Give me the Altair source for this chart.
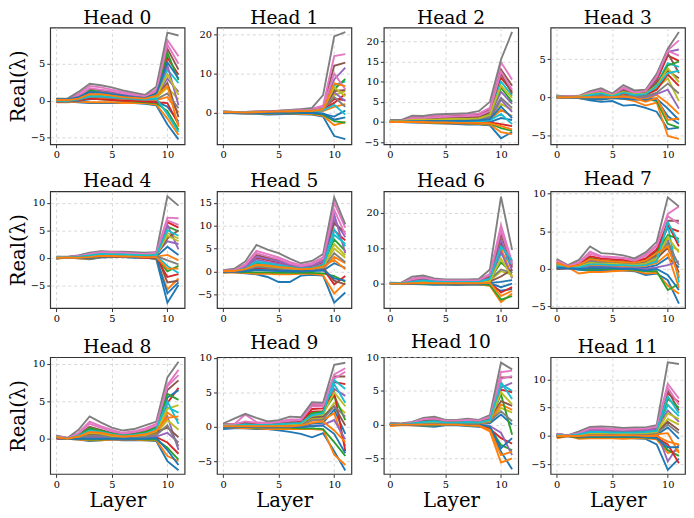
import altair as alt
import pandas as pd

LAYERS = list(range(12))

HEAD_0 = [
    [0.0,-0.1,-0.2,-0.3,-0.3,-0.3,-0.3,-0.3,-0.4,-0.6,-3.2,-5.2],
    [-0.2,-0.2,-0.1,-0.2,-0.2,-0.2,-0.3,-0.3,-0.3,-0.5,-2.4,-4.6],
    [0.1,0.0,0.1,0.3,0.2,0.1,0.0,-0.1,-0.2,-0.3,-1.4,-3.9],
    [0.2,0.1,0.4,1.3,1.0,0.8,0.6,0.4,0.3,0.9,5.8,3.5],
    [0.0,0.1,0.3,0.9,0.8,0.6,0.4,0.3,0.2,0.6,3.0,1.2],
    [0.3,0.2,0.6,1.6,1.4,1.2,0.9,0.7,0.5,1.2,7.0,4.2],
    [0.2,0.2,0.9,2.0,1.8,1.5,1.2,0.9,0.7,1.5,8.2,6.0],
    [0.3,0.3,1.2,2.3,2.1,1.8,1.4,1.1,0.8,1.9,9.2,8.8],
    [0.1,0.1,0.2,0.7,0.6,0.5,0.4,0.3,0.2,0.4,1.8,0.2],
    [0.0,0.0,0.3,1.1,1.0,0.8,0.6,0.4,0.3,0.7,4.2,2.4],
    [-0.1,-0.1,0.0,0.2,0.4,0.3,0.2,0.1,0.0,-0.1,-0.8,-2.8],
    [0.0,0.0,0.1,0.4,0.3,0.2,0.1,0.0,0.0,0.1,0.5,-1.6],
    [0.2,0.1,0.5,1.4,1.2,1.0,0.8,0.6,0.4,1.0,6.5,2.8],
    [-0.1,0.0,0.1,0.3,0.2,0.1,0.0,0.0,-0.1,-0.2,-0.3,-3.2],
    [0.1,0.2,0.4,1.0,1.2,1.0,0.8,0.6,0.4,0.8,4.8,-0.6],
    [0.2,0.1,0.3,0.8,0.7,0.6,0.5,0.4,0.3,0.6,2.4,-2.2],
    [0.1,0.1,0.6,1.7,1.5,1.3,1.0,0.8,0.6,1.3,7.6,5.0],
    [0.0,0.0,0.2,0.5,0.5,0.4,0.3,0.2,0.1,0.2,1.0,-1.0],
    [0.1,0.1,0.3,0.8,0.8,0.7,0.5,0.4,0.3,0.5,3.6,0.8],
    [0.0,0.0,0.2,0.6,0.6,0.5,0.4,0.3,0.2,0.3,-1.8,-4.2],
    [0.2,0.2,0.5,1.2,1.1,0.9,0.7,0.5,0.4,0.9,5.2,3.0],
    [0.1,0.1,0.3,0.9,0.9,0.7,0.5,0.4,0.3,0.7,2.0,-3.5],
]
HEAD_1 = [
    [0.0,-0.2,-0.3,-0.3,-0.5,-0.4,-0.3,-0.4,-0.5,-1.0,-6.0,-6.8],
    [-0.1,-0.1,-0.2,-0.2,-0.3,-0.2,-0.2,-0.3,-0.4,-0.8,-3.2,-2.4],
    [0.1,0.0,-0.1,-0.1,-0.2,-0.1,0.0,-0.1,-0.2,-0.5,-2.2,-2.6],
    [0.2,0.1,0.0,0.1,0.1,0.2,0.3,0.4,0.5,0.9,3.5,3.2],
    [0.1,0.0,0.1,0.2,0.2,0.3,0.4,0.5,0.6,1.2,8.5,11.5],
    [0.3,0.2,0.1,0.2,0.3,0.4,0.5,0.6,0.8,1.4,12.0,12.8],
    [0.2,0.1,0.2,0.3,0.4,0.5,0.6,0.8,1.0,1.8,14.5,15.0],
    [0.3,0.2,0.2,0.3,0.4,0.5,0.7,0.9,1.2,4.5,19.5,20.6],
    [0.0,0.0,0.0,0.1,0.1,0.2,0.3,0.3,0.4,0.7,4.5,5.5],
    [0.1,0.1,0.0,0.0,0.1,0.2,0.2,0.3,0.4,0.8,7.0,8.0],
    [-0.2,-0.1,-0.1,-0.2,-0.2,-0.1,0.0,0.0,-0.1,-0.3,-1.0,0.5],
    [0.0,0.0,0.1,0.1,0.0,0.1,0.2,0.2,0.2,0.4,1.5,2.2],
    [0.2,0.1,0.1,0.2,0.2,0.3,0.4,0.5,0.6,1.0,6.0,8.6],
    [0.1,0.0,0.0,0.1,0.2,0.2,0.3,0.4,0.5,0.9,2.5,4.8],
    [0.0,0.1,0.1,0.1,0.2,0.3,0.3,0.4,0.5,0.8,5.2,3.0],
    [0.2,0.1,0.0,0.1,0.2,0.3,0.4,0.4,0.5,1.0,5.5,5.8],
    [0.1,0.1,0.1,0.2,0.3,0.4,0.5,0.6,0.7,1.3,10.0,6.0],
    [0.0,0.0,0.0,0.1,0.2,0.3,0.3,0.4,0.5,0.9,4.0,1.5],
    [0.1,0.0,0.0,0.1,0.1,0.2,0.3,0.3,0.4,0.8,6.5,4.2],
    [0.0,0.0,0.0,0.0,0.1,0.1,0.2,0.2,0.3,0.6,2.0,-0.5],
    [-0.1,-0.1,-0.1,-0.1,-0.1,0.0,0.1,0.1,0.0,-0.2,-1.8,-1.2],
    [0.1,0.1,0.0,0.1,0.2,0.3,0.3,0.4,0.4,0.8,7.5,6.8],
]
HEAD_2 = [
    [0.0,0.0,-0.1,-0.2,-0.3,-0.4,-0.5,-0.6,-0.6,-0.8,-4.0,-2.5],
    [0.1,0.0,0.0,-0.1,-0.2,-0.3,-0.3,-0.4,-0.5,-0.6,-2.5,-3.0],
    [0.0,0.1,0.1,0.0,-0.1,-0.2,-0.2,-0.3,-0.3,-0.4,-1.5,-2.2],
    [0.2,0.2,0.8,0.9,1.0,1.1,1.2,1.3,1.4,2.5,11.0,7.5],
    [0.1,0.1,0.4,0.5,0.5,0.6,0.7,0.7,0.8,1.6,7.5,4.5],
    [0.3,0.3,1.0,1.1,1.3,1.4,1.5,1.6,1.8,3.0,13.0,9.0],
    [0.4,0.4,1.3,1.4,1.6,1.8,1.9,2.0,2.1,3.5,14.8,10.5],
    [0.5,0.5,1.6,1.5,1.9,2.0,2.1,2.2,2.7,5.0,15.5,22.3],
    [0.1,0.1,0.3,0.3,0.3,0.4,0.4,0.5,0.5,1.0,4.5,3.0],
    [0.2,0.2,0.6,0.7,0.8,0.9,1.0,1.0,1.1,2.2,10.0,6.5],
    [0.0,0.0,0.1,0.1,0.1,0.0,0.0,-0.1,-0.1,0.0,1.0,0.5],
    [0.1,0.1,0.2,0.2,0.2,0.2,0.3,0.3,0.3,0.6,3.0,1.5],
    [0.2,0.2,0.5,0.6,0.7,0.8,0.8,0.9,1.0,2.0,8.5,5.0],
    [0.0,0.0,0.0,0.1,0.0,-0.1,-0.1,-0.1,-0.2,-0.1,-0.5,-1.0],
    [0.1,0.1,0.2,0.3,0.3,0.3,0.4,0.4,0.4,0.8,5.5,2.5],
    [0.3,0.2,0.7,0.8,0.9,1.0,1.1,1.1,1.2,2.4,12.0,7.0],
    [0.3,0.3,0.9,1.0,1.2,1.3,1.4,1.5,1.6,2.8,12.5,8.0],
    [0.1,0.1,0.3,0.4,0.4,0.5,0.5,0.6,0.6,1.2,6.0,3.5],
    [0.2,0.2,0.5,0.6,0.6,0.7,0.8,0.8,0.9,1.8,9.0,6.0],
    [0.0,0.0,0.1,0.1,0.1,0.1,0.1,0.1,0.1,0.4,2.0,-0.5],
    [0.1,0.1,0.2,0.2,0.3,0.3,0.3,0.3,0.4,0.7,3.8,1.0],
    [0.0,0.0,0.0,0.0,-0.1,-0.1,-0.2,-0.2,-0.2,-0.3,-1.0,-1.8],
]
HEAD_3 = [
    [0.0,0.0,-0.1,-0.4,-0.6,-0.5,-1.1,-1.0,-1.4,-1.9,-4.2,-4.0],
    [-0.1,0.0,-0.1,-0.2,-0.3,-0.1,-0.2,-0.5,-1.1,-0.7,-5.1,-5.5],
    [0.0,0.0,-0.1,-0.2,-0.2,0.0,-0.1,-0.2,-0.2,-0.5,-3.5,-4.0],
    [0.1,0.0,0.1,0.5,0.8,0.2,1.0,0.5,0.7,2.2,5.5,4.8],
    [0.0,0.0,0.1,0.3,0.6,0.1,0.8,0.4,0.5,2.5,6.0,6.3],
    [0.2,0.1,0.1,0.6,0.9,0.3,1.1,0.6,0.8,2.6,5.8,3.2],
    [0.1,0.1,0.1,0.7,1.0,0.4,1.3,0.7,0.9,2.8,6.2,7.5],
    [0.2,0.1,0.2,0.8,1.2,0.5,1.6,0.9,1.0,3.1,6.4,8.6],
    [0.0,0.0,0.0,0.2,0.3,0.1,0.4,0.2,0.3,1.2,2.5,-0.5],
    [0.1,0.0,0.0,0.3,0.5,0.2,0.6,0.3,0.4,1.8,4.5,4.0],
    [0.0,0.0,-0.1,-0.1,-0.2,0.0,0.0,-0.1,-0.1,-0.2,-1.5,-3.0],
    [0.0,0.0,0.0,0.1,0.1,0.0,0.2,0.0,-0.2,0.3,-0.8,-2.2],
    [0.1,0.0,0.1,0.4,0.6,0.2,0.7,0.4,0.5,1.6,4.2,4.7],
    [0.1,0.0,0.0,0.2,0.4,0.1,0.5,0.3,0.3,1.0,3.0,1.5],
    [0.0,0.0,0.0,0.0,0.1,0.0,0.1,0.0,0.0,0.4,1.0,-1.5],
    [0.1,0.0,0.1,0.4,0.7,0.2,0.9,0.5,0.6,2.0,3.5,2.5],
    [0.1,0.1,0.1,0.6,0.9,0.3,1.2,0.6,0.8,2.7,6.1,5.5],
    [0.0,0.0,0.0,0.1,0.2,0.0,0.2,0.1,0.1,0.6,1.8,0.5],
    [0.1,0.0,0.1,0.4,0.6,0.2,0.7,0.4,0.5,1.5,3.8,2.0],
    [0.1,0.0,0.0,0.3,0.5,0.1,0.6,0.3,0.4,1.4,3.2,3.5],
    [0.0,0.0,-0.1,-0.2,-0.3,-0.1,-0.2,-0.3,-0.4,-0.3,-2.5,-3.5],
    [0.0,0.0,0.0,0.0,0.0,0.0,0.1,-0.1,-0.6,-0.1,-3.0,-2.8],
]
HEAD_4 = [
    [0.0,0.0,-0.1,-0.3,0.0,0.1,0.1,0.0,0.0,-0.3,-8.2,-5.0],
    [-0.2,0.0,-0.1,-0.2,0.1,0.1,0.1,0.1,0.0,-0.2,-5.8,-3.8],
    [-0.1,0.0,0.0,-0.1,0.2,0.2,0.2,0.1,0.1,0.0,-2.5,-1.5],
    [0.1,0.1,0.2,0.4,0.7,0.6,0.5,0.4,0.3,0.5,6.5,5.5],
    [0.0,0.1,0.2,0.5,0.8,0.7,0.7,0.6,0.5,0.6,3.0,2.5],
    [0.1,0.1,0.3,0.6,0.9,0.9,0.8,0.7,0.6,0.7,-4.5,-4.2],
    [0.2,0.1,0.4,0.8,1.1,1.0,1.0,0.9,0.8,1.0,7.3,7.2],
    [0.2,0.2,0.4,0.9,1.2,1.1,1.1,1.0,0.9,1.0,11.2,9.5],
    [0.0,0.0,0.1,0.3,0.5,0.5,0.4,0.4,0.3,0.4,4.5,3.5],
    [0.0,0.0,0.1,0.2,0.4,0.4,0.4,0.3,0.3,0.3,-1.5,-2.8],
    [-0.1,0.0,0.0,0.1,0.3,0.3,0.3,0.2,0.2,0.2,2.0,0.5],
    [0.0,0.0,0.1,0.2,0.4,0.3,0.3,0.3,0.2,0.2,0.5,-0.5],
    [0.1,0.1,0.2,0.5,0.8,0.8,0.7,0.6,0.5,0.6,5.7,4.8],
    [0.0,0.0,0.0,0.0,0.2,0.2,0.1,0.1,0.0,0.0,-3.5,-3.0],
    [0.1,0.1,0.3,0.6,0.9,0.8,0.8,0.7,0.6,0.8,6.0,1.5],
    [0.0,0.0,0.1,0.3,0.6,0.5,0.5,0.4,0.4,0.5,3.5,5.0],
    [0.1,0.1,0.3,0.7,1.0,1.0,0.9,0.8,0.7,0.9,6.8,6.0],
    [0.0,0.0,0.1,0.3,0.5,0.4,0.4,0.3,0.3,0.3,-0.5,-1.2],
    [0.0,0.0,0.1,0.4,0.6,0.6,0.5,0.5,0.4,0.5,4.0,3.0],
    [0.1,0.0,0.2,0.4,0.7,0.6,0.6,0.5,0.4,0.5,5.0,4.0],
    [-0.1,0.0,0.0,0.0,0.2,0.2,0.2,0.1,0.1,0.0,-6.5,-4.5],
    [0.0,0.0,0.0,0.1,0.3,0.3,0.2,0.2,0.1,0.1,-2.0,-2.0],
]
HEAD_5 = [
    [0.0,-0.2,-0.4,-0.6,-1.2,-2.3,-2.3,-0.9,-0.7,-0.9,-6.8,-4.6],
    [-0.3,-0.2,-0.3,-0.5,-0.5,-0.6,-0.6,-0.5,-0.5,-0.8,-4.8,-2.5],
    [-0.2,-0.1,-0.1,-0.2,-0.2,-0.3,-0.3,-0.3,-0.3,-0.4,-1.0,-2.2],
    [0.1,0.2,1.0,3.0,2.5,2.0,1.4,0.9,1.2,2.0,9.0,6.8],
    [0.0,0.1,0.8,2.6,2.1,1.7,1.1,0.7,0.9,1.6,11.3,7.5],
    [0.1,0.2,1.2,3.6,3.0,2.4,1.6,1.1,1.5,2.6,10.5,8.5],
    [0.2,0.4,1.6,4.5,3.8,3.1,2.1,1.4,1.9,3.1,15.0,9.5],
    [0.3,0.6,2.2,5.8,4.8,4.0,2.8,1.8,2.3,3.8,16.2,10.3],
    [0.0,0.0,0.4,1.6,1.3,1.0,0.7,0.5,0.6,1.0,5.0,3.0],
    [0.1,0.1,0.7,2.2,1.8,1.4,1.0,0.7,0.8,1.4,9.2,5.5],
    [-0.1,0.0,0.1,0.3,0.2,0.1,0.0,0.0,0.1,0.2,1.8,0.8],
    [0.0,0.0,0.2,0.7,0.6,0.4,0.3,0.2,0.3,0.5,3.2,1.8],
    [0.1,0.1,0.6,1.9,1.5,1.2,0.9,0.6,0.7,1.3,7.0,4.5],
    [0.0,0.0,0.2,0.8,0.7,0.5,0.4,0.3,0.4,0.6,-2.8,-1.0],
    [0.1,0.2,1.0,3.2,2.7,2.2,1.5,1.0,1.3,2.2,12.5,4.0],
    [0.0,0.0,0.3,1.2,1.0,0.8,0.6,0.4,0.5,0.8,-2.0,-2.8],
    [0.2,0.3,1.4,4.0,3.3,2.7,1.8,1.2,1.6,2.8,13.5,8.0],
    [0.0,0.0,0.3,1.0,0.8,0.6,0.5,0.3,0.4,0.7,4.0,2.0],
    [0.1,0.1,0.5,1.4,1.2,0.9,0.7,0.5,0.6,1.0,6.0,3.5],
    [0.1,0.1,0.6,2.0,1.6,1.3,0.9,0.6,0.7,1.2,8.0,6.0],
    [0.0,0.0,0.1,0.4,0.3,0.2,0.1,0.1,0.2,0.3,-1.5,-2.0],
    [0.1,0.1,0.5,1.5,1.3,1.0,0.8,0.5,0.6,1.1,2.5,0.5],
]
HEAD_6 = [
    [0.0,0.0,-0.1,-0.2,-0.3,-0.3,-0.4,-0.3,-0.3,-0.5,-2.0,-1.5],
    [-0.1,0.0,0.0,-0.1,-0.1,-0.2,-0.2,-0.2,-0.2,-0.6,-5.2,-2.8],
    [0.0,0.0,0.0,0.0,-0.1,-0.1,-0.1,-0.1,-0.1,-0.4,-4.5,-3.5],
    [0.1,0.1,0.8,1.2,0.8,0.6,0.5,0.6,0.7,1.8,11.5,4.5],
    [0.0,0.1,0.5,0.8,0.6,0.5,0.4,0.5,0.5,1.3,12.5,3.5],
    [0.1,0.1,1.0,1.5,1.0,0.8,0.7,0.8,0.9,2.2,14.0,5.0],
    [0.2,0.2,1.5,1.9,1.2,1.0,1.0,1.0,1.1,2.8,16.5,6.0],
    [0.3,0.2,2.0,2.3,1.5,1.2,1.2,1.2,1.3,4.0,24.5,9.5],
    [0.0,0.0,0.2,0.4,0.3,0.3,0.2,0.2,0.3,0.8,3.5,2.5],
    [0.0,0.1,0.4,0.7,0.5,0.4,0.3,0.4,0.4,1.0,8.5,5.5],
    [0.0,0.0,0.1,0.2,0.1,0.0,0.0,0.0,0.0,0.2,0.5,1.0],
    [0.1,0.0,0.2,0.5,0.4,0.3,0.3,0.3,0.3,0.9,10.0,2.0],
    [0.1,0.1,0.3,0.6,0.4,0.3,0.3,0.3,0.4,1.1,6.0,3.0],
    [0.0,0.0,0.1,0.3,0.2,0.2,0.1,0.1,0.1,0.3,-2.5,-1.0],
    [0.1,0.1,0.6,1.0,0.7,0.6,0.5,0.6,0.6,1.5,9.0,1.5],
    [0.0,0.0,0.2,0.4,0.3,0.2,0.2,0.2,0.2,0.6,2.0,4.0],
    [0.2,0.2,1.2,1.7,1.1,0.9,0.9,0.9,1.0,2.5,15.0,5.5],
    [0.1,0.1,0.4,0.6,0.5,0.4,0.4,0.4,0.4,1.2,4.0,3.0],
    [0.0,0.0,0.2,0.4,0.3,0.2,0.2,0.2,0.3,0.7,7.0,1.8],
    [0.1,0.1,0.5,0.9,0.6,0.5,0.5,0.5,0.5,1.4,10.5,6.5],
    [0.0,0.0,0.0,0.1,0.0,0.0,0.0,0.0,0.0,0.1,-1.0,0.0],
    [0.0,0.0,0.1,0.2,0.1,0.1,0.1,0.1,0.1,0.2,-3.5,-2.0],
]
HEAD_7 = [
    [0.0,0.1,-0.1,-0.2,-0.2,-0.2,-0.2,-0.3,-0.8,-0.6,-1.5,-4.6],
    [0.1,0.2,-0.6,-0.4,-0.4,-0.3,-0.2,-0.2,-0.6,-0.5,-2.2,-3.3],
    [0.3,0.2,0.0,-0.1,0.0,0.0,0.0,-0.1,-0.3,-0.3,-2.8,-2.0],
    [1.2,0.4,0.6,1.5,1.2,1.1,1.0,0.9,1.3,2.3,5.5,5.0],
    [0.8,0.3,0.4,1.2,1.0,0.9,0.8,0.7,1.0,2.0,4.0,-1.2],
    [0.0,0.1,0.3,1.0,0.8,0.8,0.7,0.6,0.9,1.8,6.4,6.4],
    [1.0,0.4,0.9,2.3,1.7,1.6,1.5,1.2,1.9,3.2,7.3,8.3],
    [1.3,0.5,1.2,3.0,2.1,2.0,1.8,1.4,2.2,3.6,9.5,8.3],
    [0.5,0.2,0.3,0.7,0.6,0.6,0.5,0.4,0.6,1.2,3.2,2.5],
    [0.6,0.2,0.4,0.9,0.8,0.7,0.6,0.5,0.7,1.5,5.8,-1.8],
    [0.2,0.1,0.1,0.3,0.3,0.3,0.2,0.2,0.2,0.5,1.5,0.2],
    [0.4,0.2,0.2,0.5,0.5,0.4,0.4,0.3,0.4,0.8,2.0,-2.5],
    [0.7,0.3,0.5,1.4,1.1,1.0,0.9,0.8,1.1,2.2,4.5,4.0],
    [0.9,0.3,0.7,1.7,1.4,1.3,1.2,1.0,1.4,2.6,6.0,3.0],
    [0.3,0.1,0.1,0.2,0.2,0.2,0.1,0.1,0.0,0.2,0.5,1.0],
    [0.5,0.2,0.3,0.8,0.7,0.6,0.6,0.5,0.7,1.4,2.8,-0.5],
    [1.1,0.4,0.8,2.0,1.6,1.5,1.4,1.1,1.7,3.0,7.0,6.0],
    [0.6,0.2,0.4,1.0,0.9,0.8,0.7,0.6,0.8,1.6,3.5,0.5],
    [0.5,0.2,0.3,0.8,0.7,0.7,0.6,0.5,0.7,1.4,4.2,2.2],
    [0.4,0.2,0.2,0.6,0.6,0.5,0.5,0.4,0.5,1.0,6.2,3.5],
    [0.2,0.1,0.0,0.1,0.1,0.1,0.0,0.0,-0.2,0.0,-0.8,-2.8],
    [0.8,0.3,0.5,1.3,1.1,1.0,0.9,0.8,1.1,2.1,3.0,-1.0],
]
HEAD_8 = [
    [0.1,0.0,-0.1,-0.3,-0.2,-0.1,-0.2,-0.2,-0.2,-0.3,-3.0,-4.2],
    [0.2,0.0,-0.1,-0.2,-0.2,-0.1,-0.1,-0.1,-0.2,-0.2,-2.3,-3.0],
    [0.2,0.0,0.0,-0.1,-0.1,0.0,0.0,0.0,-0.1,-0.1,-1.2,-2.8],
    [0.3,0.0,0.4,1.2,0.9,0.6,0.4,0.5,0.7,1.2,4.8,6.8],
    [0.2,0.0,0.3,0.9,0.7,0.5,0.3,0.4,0.6,1.0,3.0,-1.5],
    [0.3,0.1,0.6,1.6,1.2,0.8,0.5,0.7,1.0,1.6,6.5,7.8],
    [0.4,0.1,0.8,2.3,1.7,1.2,0.8,1.0,1.4,2.0,7.2,9.2],
    [0.4,0.1,1.2,3.0,2.2,1.5,1.1,1.3,1.8,2.3,8.2,10.3],
    [0.1,0.0,0.2,0.6,0.5,0.3,0.2,0.3,0.4,0.7,2.5,1.2],
    [0.2,0.0,0.3,1.0,0.8,0.5,0.3,0.4,0.6,1.3,4.2,3.5],
    [0.2,0.0,0.5,1.3,1.0,0.7,0.4,0.6,0.8,1.4,5.5,6.5],
    [0.1,0.0,0.2,0.5,0.4,0.3,0.2,0.2,0.3,0.8,3.5,2.5],
    [0.3,0.0,0.5,1.4,1.1,0.7,0.5,0.6,0.9,1.5,6.0,5.2],
    [0.0,0.0,0.1,0.3,0.2,0.1,0.1,0.1,0.1,0.2,-0.5,-2.0],
    [0.1,0.0,0.1,0.2,0.2,0.1,0.0,0.1,0.1,0.3,0.8,-0.5],
    [0.2,0.0,0.2,0.7,0.6,0.4,0.3,0.3,0.5,0.9,1.5,0.2],
    [0.3,0.1,0.7,2.0,1.5,1.0,0.7,0.9,1.2,1.8,7.0,8.5],
    [0.1,0.0,0.2,0.4,0.4,0.2,0.2,0.2,0.3,0.5,1.8,-1.0],
    [0.2,0.0,0.3,0.8,0.7,0.4,0.3,0.4,0.5,1.0,4.0,4.5],
    [0.2,0.0,0.4,1.1,0.9,0.6,0.4,0.5,0.7,1.3,5.0,2.0],
    [0.1,0.0,0.0,0.0,0.0,0.0,0.0,0.0,0.0,0.1,-1.5,-3.5],
    [0.2,0.0,0.3,0.9,0.8,0.5,0.3,0.4,0.6,1.1,2.8,3.0],
]
HEAD_9 = [
    [-0.3,-0.2,-0.2,-0.3,-0.3,-0.5,-0.7,-1.0,-1.5,-0.9,-3.5,-6.3],
    [0.0,-0.1,-0.2,-0.2,-0.3,-0.3,-0.3,-0.3,-0.3,-0.4,-4.0,-5.5],
    [0.1,0.0,0.0,-0.1,-0.1,-0.1,-0.1,-0.2,-0.2,-0.3,-2.2,-4.2],
    [0.3,0.4,0.6,0.5,0.4,0.5,0.7,0.8,2.2,2.3,6.5,6.2],
    [0.2,0.3,0.4,0.4,0.3,0.4,0.5,0.6,1.8,1.9,5.5,4.5],
    [0.4,0.4,0.5,0.5,0.5,0.6,0.8,0.9,3.2,3.1,7.3,7.3],
    [0.3,0.4,1.8,0.7,0.6,0.8,1.1,1.1,3.4,3.3,7.6,8.5],
    [0.5,1.2,1.9,1.3,0.8,1.0,1.5,1.4,3.6,3.5,9.0,9.3],
    [0.1,0.1,0.2,0.2,0.2,0.2,0.3,0.4,1.2,1.3,3.5,2.0],
    [0.2,0.2,0.3,0.3,0.3,0.3,0.5,0.5,1.5,1.7,6.2,3.5],
    [0.0,0.0,0.1,0.0,0.0,0.0,0.1,0.1,0.5,0.6,2.5,-1.0],
    [0.1,0.1,0.2,0.1,0.1,0.2,0.2,0.3,0.9,1.0,2.0,-2.8],
    [0.2,0.3,0.4,0.3,0.3,0.4,0.6,0.6,2.0,2.2,4.5,1.0],
    [0.3,0.3,0.5,0.4,0.4,0.5,0.6,0.7,2.6,2.7,5.0,-3.5],
    [0.0,0.0,0.0,0.0,-0.1,0.0,0.0,0.0,0.2,0.3,1.0,-1.8],
    [0.2,0.2,0.3,0.3,0.3,0.3,0.4,0.5,1.4,1.5,3.0,0.2],
    [0.3,0.4,0.8,0.6,0.5,0.7,0.9,1.0,3.0,3.0,7.0,8.0],
    [0.1,0.1,0.2,0.2,0.2,0.2,0.3,0.3,1.0,1.1,3.0,1.5],
    [0.2,0.2,0.3,0.3,0.3,0.3,0.4,0.5,1.6,1.8,5.0,3.0],
    [0.2,0.2,0.4,0.3,0.3,0.4,0.5,0.6,1.7,2.0,6.8,5.5],
    [0.0,0.0,0.0,0.0,0.0,0.0,0.0,0.0,0.1,0.2,-1.0,-3.8],
    [0.1,0.1,0.1,0.1,0.1,0.1,0.1,0.2,0.6,0.8,-0.5,-2.2],
]
HEAD_10 = [
    [0.0,0.0,-0.1,-0.2,-0.3,-0.1,-0.1,-0.2,-0.3,-0.5,-4.0,-6.6],
    [-0.2,-0.1,-0.1,-0.1,-0.1,0.0,0.0,-0.1,-0.2,-1.0,-5.6,-5.0],
    [0.0,0.0,0.0,-0.1,-0.1,0.0,0.0,-0.1,-0.1,-0.4,-3.0,-3.8],
    [0.1,0.1,0.2,0.5,0.6,0.4,0.4,0.5,0.4,0.8,5.2,4.8],
    [0.1,0.0,0.1,0.4,0.5,0.3,0.3,0.4,0.3,0.6,5.5,6.2],
    [0.2,0.1,0.3,0.7,0.8,0.5,0.5,0.6,0.5,1.0,7.0,7.0],
    [0.2,0.1,0.3,0.9,1.0,0.6,0.6,0.8,0.6,1.2,7.8,8.0],
    [0.3,0.2,0.4,1.0,1.2,0.7,0.7,0.9,0.7,1.4,9.2,8.2],
    [0.0,0.0,0.1,0.2,0.3,0.2,0.2,0.2,0.2,0.3,2.5,1.8],
    [0.1,0.0,0.1,0.3,0.4,0.3,0.3,0.3,0.3,0.6,6.3,3.8],
    [0.0,0.0,0.0,0.1,0.1,0.1,0.1,0.1,0.1,0.2,1.5,0.0],
    [0.1,0.0,0.1,0.2,0.2,0.2,0.2,0.2,0.1,0.4,3.0,2.2],
    [0.1,0.1,0.2,0.4,0.5,0.3,0.3,0.4,0.3,0.7,4.5,-1.5],
    [0.0,0.0,0.0,0.0,0.1,0.1,0.0,0.0,-0.1,-0.6,-2.0,-2.8],
    [0.0,0.0,0.1,0.2,0.2,0.1,0.1,0.1,0.0,-0.2,-1.2,-4.5],
    [0.1,0.1,0.2,0.5,0.6,0.4,0.4,0.5,0.4,0.9,3.5,2.8],
    [0.2,0.1,0.3,0.8,0.9,0.6,0.6,0.7,0.6,1.1,6.8,7.2],
    [0.1,0.0,0.1,0.3,0.3,0.2,0.2,0.2,0.2,0.5,2.0,0.5],
    [0.1,0.0,0.1,0.3,0.4,0.3,0.3,0.3,0.3,0.6,4.8,3.0],
    [0.1,0.0,0.2,0.4,0.5,0.3,0.3,0.4,0.3,0.7,6.0,5.0],
    [0.0,0.0,0.0,0.0,0.0,0.0,0.0,0.0,0.0,-0.3,-3.5,-2.0],
    [0.0,0.0,0.0,0.0,0.0,0.0,0.0,-0.1,-0.1,-0.8,-4.5,-4.0],
]
HEAD_11 = [
    [0.0,0.0,-0.2,-0.3,-0.3,-0.3,-0.3,-0.4,-0.5,-1.5,-6.0,-4.0],
    [-0.4,0.0,-0.5,-0.4,-0.4,-0.4,-0.5,-0.4,-0.4,-0.6,-3.0,-2.5],
    [-0.2,0.0,-0.3,-0.2,-0.2,-0.2,-0.2,-0.2,-0.3,-0.4,-2.5,-3.5],
    [0.2,0.1,0.3,0.9,0.9,0.8,0.8,0.8,0.9,1.1,7.5,6.0],
    [0.1,0.0,0.2,0.6,0.6,0.6,0.5,0.6,0.6,0.8,-4.5,-1.5],
    [0.3,0.1,0.5,1.2,1.2,1.1,1.0,1.1,1.2,1.4,8.0,4.5],
    [0.4,0.1,0.6,1.4,1.4,1.3,1.2,1.3,1.4,1.7,9.2,6.6],
    [0.4,0.1,0.8,1.6,1.7,1.6,1.4,1.5,1.5,1.9,13.0,12.7],
    [0.0,0.0,0.1,0.3,0.3,0.3,0.3,0.3,0.3,0.5,3.0,2.0],
    [0.1,0.0,0.2,0.5,0.5,0.4,0.4,0.4,0.5,0.7,5.5,3.5],
    [0.0,0.0,0.0,0.1,0.1,0.1,0.1,0.1,0.1,0.2,1.5,-0.5],
    [0.1,0.0,0.1,0.2,0.2,0.2,0.2,0.2,0.2,0.3,0.5,-3.0],
    [0.2,0.0,0.3,0.8,0.8,0.7,0.7,0.7,0.8,1.0,6.5,5.0],
    [-0.1,0.0,-0.1,0.0,0.0,0.0,0.0,0.0,-0.1,-0.3,-1.5,-4.8],
    [0.3,0.1,0.4,1.0,1.0,0.9,0.9,0.9,1.0,1.2,4.5,2.5],
    [0.1,0.0,0.2,0.4,0.4,0.4,0.3,0.4,0.4,0.6,2.5,1.0],
    [0.3,0.1,0.5,1.3,1.3,1.2,1.1,1.2,1.3,1.6,8.5,5.5],
    [0.1,0.0,0.1,0.3,0.3,0.3,0.3,0.3,0.3,0.5,2.0,0.5],
    [0.1,0.0,0.2,0.5,0.5,0.5,0.4,0.5,0.5,0.7,4.0,3.0],
    [0.2,0.0,0.3,0.7,0.7,0.6,0.6,0.6,0.7,0.9,7.0,4.0],
    [0.0,0.0,-0.1,-0.1,-0.1,-0.1,-0.1,-0.1,-0.2,-0.4,-2.0,-2.0],
    [0.0,0.0,0.0,0.1,0.1,0.1,0.1,0.1,0.0,0.0,-1.0,-1.5],
]

HEADS = [HEAD_0, HEAD_1, HEAD_2, HEAD_3, HEAD_4, HEAD_5,
         HEAD_6, HEAD_7, HEAD_8, HEAD_9, HEAD_10, HEAD_11]
HEAD_TITLES = [f"Head {i}" for i in range(12)]

Y_DOMAINS = [
    [-5.86, 9.88], [-8.1, 21.8], [-5.5, 23.4], [-6.2, 9.2],
    [-9.2, 12.1], [-8.0, 17.5], [-6.9, 26.0], [-5.2, 10.3],
    [-4.7, 10.9], [-6.8, 10.1], [-7.3, 10.0], [-6.7, 13.9],
]
Y_TICKS = [
    [-5, 0, 5], [0, 10, 20], [-5, 0, 5, 10, 15, 20], [-5, 0, 5],
    [-5, 0, 5, 10], [-5, 0, 5, 10, 15], [0, 10, 20], [-5, 0, 5, 10],
    [0, 5, 10], [-5, 0, 5, 10], [-5, 0, 5, 10], [-5, 0, 5, 10],
]
X_TICKS = [0, 5, 10]

TAB10 = ["#1f77b4", "#ff7f0e", "#2ca02c", "#d62728", "#9467bd",
         "#8c564b", "#e377c2", "#7f7f7f", "#bcbd22", "#17becf"]
N_LINES = 22
LINE_COLORS = [TAB10[i % 10] for i in range(N_LINES)]

rows = []
for h, lines in enumerate(HEADS):
    for li, vals in enumerate(lines):
        for layer, v in zip(LAYERS, vals):
            rows.append({"head": h, "line": li, "layer": layer, "value": v})
df = pd.DataFrame(rows)

SERIF = "DejaVu Serif"
W, H = 137, 119


def panel(h):
    col, row = h % 4, h // 4
    sub = df[df["head"] == h]
    xscale = alt.Scale(domain=[-0.55, 11.55], nice=False, zero=False)
    xaxis = alt.Axis(values=X_TICKS)
    if row == 2:
        x_enc = alt.X("layer:Q", title="Layer", scale=xscale, axis=xaxis)
    else:
        x_enc = alt.X("layer:Q", title=None, scale=xscale, axis=xaxis)
    y_axis = alt.Axis(values=Y_TICKS[h], minExtent=21, maxExtent=21)
    y_enc = alt.Y("value:Q", title="Real(λ)" if col == 0 else None,
                  scale=alt.Scale(domain=Y_DOMAINS[h], nice=False, zero=False),
                  axis=y_axis)
    return (
        alt.Chart(sub)
        .mark_line(strokeWidth=1.9, clip=True)
        .encode(
            x=x_enc,
            y=y_enc,
            color=alt.Color("line:N",
                            scale=alt.Scale(domain=list(range(N_LINES)), range=LINE_COLORS),
                            legend=None),
        )
        .properties(
            width=W, height=H,
            title=alt.TitleParams(HEAD_TITLES[h], fontSize=19, font=SERIF,
                                  fontWeight="normal", anchor="middle",
                                  frame="group", offset=0, color="black"),
        )
    )


rows_charts = []
for r in range(3):
    rows_charts.append(alt.hconcat(*[panel(r * 4 + c) for c in range(4)], spacing=10))

chart = (
    alt.vconcat(*rows_charts, spacing=8)
    .properties(padding={"top": -5, "left": 0, "right": 0, "bottom": 0}, background="white")
    .configure_view(stroke="#333333", strokeWidth=1.2)
    .configure_axis(
        labelFont=SERIF, labelFontSize=10, labelColor="black",
        titleFont=SERIF, titleFontSize=20, titleFontWeight="normal", titleColor="black",
        tickColor="#333333", tickSize=3.5, tickWidth=1,
        domain=False,
        gridColor="#cccccc", gridDash=[3, 3], gridWidth=0.8,
        labelPadding=2,
    )
    .configure_axisY(titlePadding=1)
    .configure_axisX(titlePadding=2)
)

chart.save("out.html", embed_options={"renderer": "svg", "actions": False})
